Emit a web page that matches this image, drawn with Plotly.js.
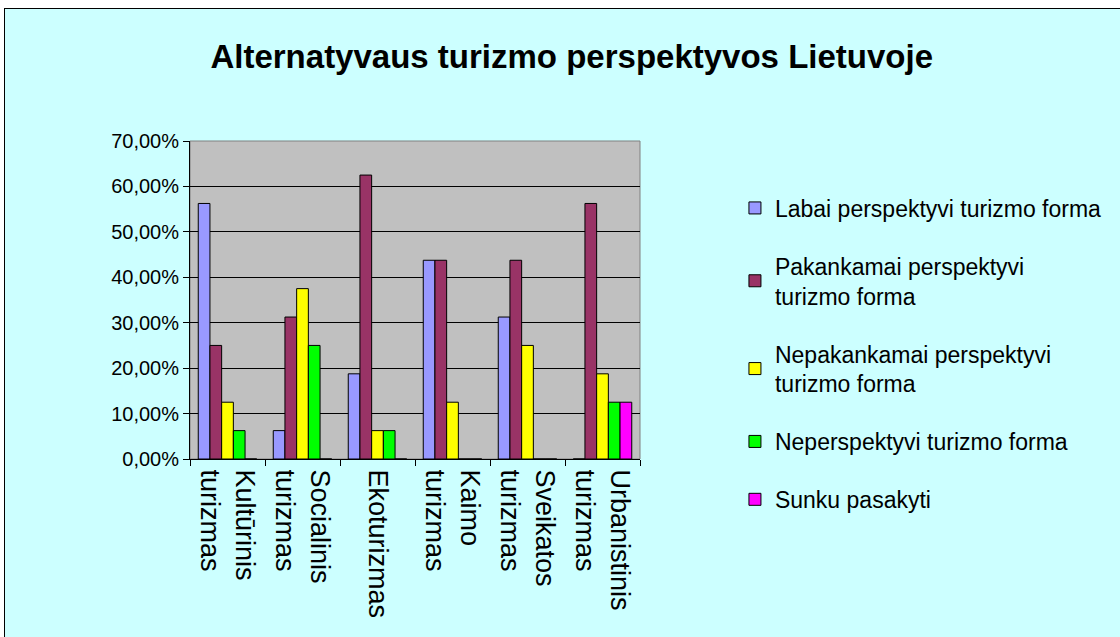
<!DOCTYPE html>
<html>
<head>
<meta charset="utf-8">
<script src="https://cdn.plot.ly/plotly-3.0.1.min.js"></script>
<style>
  html, body { margin: 0; padding: 0; background: #ffffff; overflow: hidden; width: 1120px; height: 637px; }
  #chart { position: absolute; left: 4px; top: 8px; width: 1120px; height: 637px; border: 1px solid #000; }
</style>
</head>
<body>
<div id="chart"></div>
<script>
const categories = [
  "Kultūrinis<br>turizmas",
  "Socialinis<br>turizmas",
  "Ekoturizmas",
  "Kaimo<br>turizmas",
  "Sveikatos<br>turizmas",
  "Urbanistinis<br>turizmas"
];
const seriesNames = [
  "Labai perspektyvi turizmo forma",
  "Pakankamai perspektyvi<br>turizmo forma",
  "Nepakankamai perspektyvi<br>turizmo forma",
  "Neperspektyvi turizmo forma",
  "Sunku pasakyti"
];
const labai        = [56.25, 6.25, 18.75, 43.75, 31.25, 0];
const pakankamai   = [25, 31.25, 62.5, 43.75, 43.75, 56.25];
const nepakankamai = [12.5, 37.5, 6.25, 12.5, 25, 18.75];
const neperspekt   = [6.25, 25, 6.25, 0, 0, 12.5];
const sunku        = [0, 0, 0, 0, 0, 12.5];
const yTicks = [0, 10, 20, 30, 40, 50, 60, 70];

const colors = ["#9999FF", "#993366", "#FFFF00", "#00FF00", "#FF00FF"];
const values = [labai, pakankamai, nepakankamai, neperspekt, sunku];

const traces = values.map((v, i) => ({
  type: "bar",
  name: seriesNames[i],
  x: categories,
  y: v,
  legendgroup: "g" + i,
  marker: { color: colors[i], line: { color: "#000000", width: 1 } },
  hoverinfo: "skip"
}));

const layout = {
  width: 1120,
  height: 637,
  paper_bgcolor: "#CCFFFF",
  plot_bgcolor: "#C0C0C0",
  margin: { l: 185, r: 485, t: 132, b: 187 },
  font: { family: "Liberation Sans, Arial, sans-serif", size: 19, color: "#000" },
  title: {
    text: "Alternatyvaus turizmo perspektyvos Lietuvoje",
    font: { family: "Liberation Sans, Arial, sans-serif", size: 33, color: "#000", weight: "bold" },
    x: 0.506, xref: "container", xanchor: "center",
    y: 0.925, yref: "container", yanchor: "middle"
  },
  barmode: "group",
  bargap: 0.22,
  bargroupgap: 0,
  showlegend: true,
  legend: {
    x: 1.211, xanchor: "left",
    y: 0.857, yanchor: "top",
    bgcolor: "rgba(0,0,0,0)",
    font: { size: 23, color: "#000" },
    tracegroupgap: 25,
    traceorder: "grouped",
    itemwidth: 30,
    maxheight: 440
  },
  xaxis: {
    type: "category",
    tickangle: 90,
    tickson: "boundaries",
    ticks: "outside",
    ticklen: 6,
    tickcolor: "#000",
    showline: true,
    linecolor: "#000",
    linewidth: 1,
    showgrid: false,
    ticklabelstandoff: 4,
    tickfont: { size: 27 }
  },
  yaxis: {
    range: [0, 70],
    tickvals: yTicks,
    ticktext: yTicks.map(t => t.toFixed(2).replace(".", ",") + "%"),
    ticks: "outside",
    ticklen: 6,
    tickcolor: "#000",
    showline: true,
    linecolor: "#000",
    linewidth: 1,
    showgrid: true,
    gridcolor: "#000",
    gridwidth: 1,
    zeroline: false,
    tickfont: { size: 20 }
  },
  shapes: [
    { type: "rect", xref: "paper", yref: "paper", x0: 0, x1: 1, y0: 0, y1: 1,
      line: { color: "#808080", width: 1 }, fillcolor: "rgba(0,0,0,0)", layer: "below" }
  ]
};

Plotly.newPlot("chart", traces, layout, { displayModeBar: false, staticPlot: true });
</script>
</body>
</html>
